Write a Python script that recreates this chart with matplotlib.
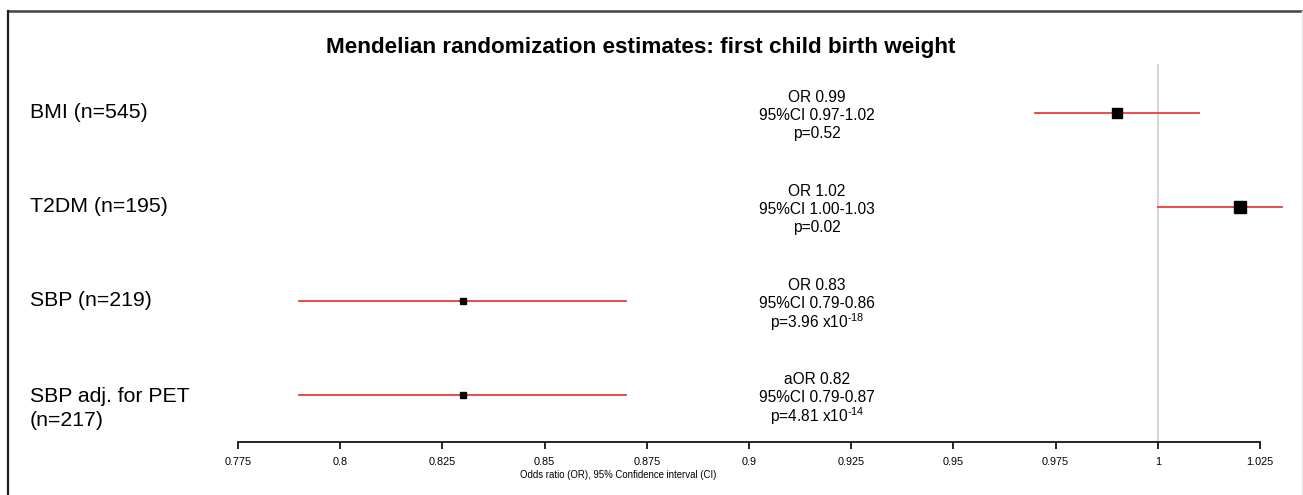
"""Forest plot: Mendelian randomization estimates for first child birth weight."""
import matplotlib
matplotlib.use("Agg")
import matplotlib.pyplot as plt
from matplotlib.lines import Line2D
from matplotlib.transforms import blended_transform_factory

plt.rcParams["font.family"] = ["Liberation Sans", "DejaVu Sans"]
plt.rcParams["mathtext.fontset"] = "custom"
plt.rcParams["mathtext.rm"] = "Liberation Sans"
plt.rcParams["mathtext.default"] = "regular"

# data
exposures = ["BMI (n=545)", "T2DM (n=195)", "SBP (n=219)", "SBP adj. for PET\n(n=217)"]
estimate = [0.99, 1.02, 0.83, 0.83]
ci_low = [0.97, 1.00, 0.79, 0.79]
ci_high = [1.01, 1.0305, 0.87, 0.87]
measure = ["OR", "OR", "OR", "aOR"]
est_text = ["0.99", "1.02", "0.83", "0.82"]
ci_text = ["0.97-1.02", "1.00-1.03", "0.79-0.86", "0.79-0.87"]
p_text = ["p=0.52", "p=0.02", r"p=3.96 x10$^{\text{-18}}$", r"p=4.81 x10$^{\text{-14}}$"]
xticks = [0.775, 0.8, 0.825, 0.85, 0.875, 0.9, 0.925, 0.95, 0.975, 1.0, 1.025]
xtick_labels = ["0.775", "0.8", "0.825", "0.85", "0.875", "0.9", "0.925",
                "0.95", "0.975", "1", "1.025"]

# styling (box size ~ study weight)
box_size = [7.0, 8.5, 4.8, 4.8]
W, H = 1303, 495

fig = plt.figure(figsize=(W / 100, H / 100), dpi=100)
ax = fig.add_axes([0, 0, 1, 1])
# map pixels: 0.775 -> x=238, 1.025 -> x=1260; row i -> y=113+94*i
ppu = (1260 - 238) / 0.25
ax.set_xlim(0.775 - 238 / ppu, 0.775 + (W - 238) / ppu)
ax.set_ylim((H - 113) / 94, -113 / 94)

rows = range(len(exposures))
line_gap = 18 / 94
ax.plot([1, 1], [(65 - 113) / 94, 3.5], color="#d0d0d0", lw=1.2, zorder=1)
for i in rows:
    ax.plot([ci_low[i], ci_high[i]], [i, i], color="#f03a3a", lw=1.3, zorder=2)
    ax.plot(estimate[i], i, marker="s", ms=box_size[i], color="black",
            ls="none", zorder=3)
    lines = [f"{measure[i]} {est_text[i]}", f"95%CI {ci_text[i]}", p_text[i]]
    for k, s in enumerate(lines):
        ax.text(0.9166, i + 0.01 + (k - 1) * line_gap, s, ha="center",
                va="center_baseline", fontsize=11.2)

lab_tr = blended_transform_factory(fig.transFigure, ax.transData)
for i in rows:
    off = 0.145 if "\n" in exposures[i] else 0.0
    ax.text(30 / W, i + off, exposures[i], transform=lab_tr, ha="left",
            va="center", fontsize=15.3, linespacing=1.3)

for side in ["left", "right", "top"]:
    ax.spines[side].set_visible(False)
ax.spines["bottom"].set_position(("data", 3.5))
ax.spines["bottom"].set_bounds(0.775, 1.025)
ax.spines["bottom"].set_linewidth(1.2)
ax.set_yticks([])
ax.set_xticks(xticks)
ax.set_xticklabels(xtick_labels)
ax.tick_params(axis="x", length=5, width=1.2, pad=6, labelsize=7.8)
ax.patch.set_visible(False)

fig.text(641 / W, 1 - 47 / H, "Mendelian randomization estimates: first child birth weight",
         ha="center", va="center", fontsize=16.2, fontweight="bold")
fig.text(618 / W, 1 - 475 / H, "Odds ratio (OR), 95% Confidence interval (CI)",
         ha="center", va="center", fontsize=6.9)

# outer frame lines
fig.add_artist(Line2D([8 / W, 1], [1 - 11 / H, 1 - 11 / H], color="#444444", lw=1.8))
fig.add_artist(Line2D([8 / W, 8 / W], [0, 1 - 11 / H], color="#222222", lw=1.6))
fig.add_artist(Line2D([1 - 1.5 / W, 1 - 1.5 / W], [0, 1 - 11 / H], color="#e6e6e6", lw=1))

fig.savefig("out.png", dpi=100)
